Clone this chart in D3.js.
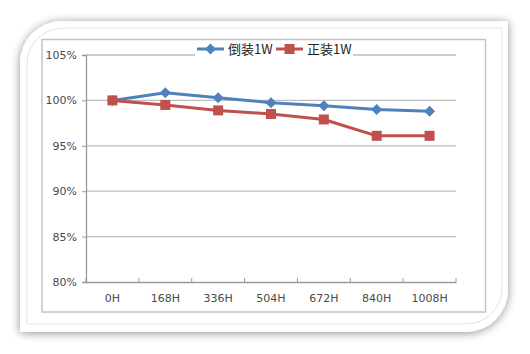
<!DOCTYPE html>
<html><head><meta charset="utf-8">
<script src="https://cdn.jsdelivr.net/npm/d3@7"></script>
<style>body{margin:0;background:#fff}svg{display:block}</style>
</head><body>
<svg id="c" width="530" height="354"></svg>
<script>
const categories = ["0H","168H","336H","504H","672H","840H","1008H"];
const seriesNames = ["倒装1W","正装1W"];
const flipValues = [100, 100.85, 100.3, 99.75, 99.4, 99.0, 98.8];
const normalValues = [100, 99.5, 98.9, 98.5, 97.9, 96.1, 96.1];
const yTicks = [80, 85, 90, 95, 100, 105];
const colors = ["#4f81bd", "#c0504d"];

const svg = d3.select("#c");
const defs = svg.append("defs");
const f = defs.append("filter").attr("id","sh").attr("x","-10%").attr("y","-10%").attr("width","120%").attr("height","120%");
f.append("feGaussianBlur").attr("in","SourceAlpha").attr("stdDeviation",5).attr("result","b");
f.append("feOffset").attr("in","b").attr("dx",0).attr("dy",1).attr("result","o");
f.append("feComponentTransfer").attr("in","o").attr("result","o2").append("feFuncA").attr("type","linear").attr("slope",0.45);
const m = f.append("feMerge"); m.append("feMergeNode").attr("in","o2"); m.append("feMergeNode").attr("in","SourceGraphic");

function cardPath(x0,y0,x1,y1,r){
  return `M${x0},${y0+r} A${r},${r} 0 0 1 ${x0+r},${y0} L${x1},${y0} L${x1},${y1-r} A${r},${r} 0 0 1 ${x1-r},${y1} L${x0},${y1} Z`;
}
svg.append("path").attr("d",cardPath(20,21,508,332,42)).attr("fill","#fff").attr("filter","url(#sh)");
svg.append("path").attr("d",cardPath(27,28,502,324,36)).attr("fill","none").attr("stroke","#e3e3e3").attr("stroke-width",1);
svg.append("rect").attr("x",42).attr("y",39.5).attr("width",443.5).attr("height",272.5).attr("fill","#fff").attr("stroke","#c4c4c4").attr("stroke-width",1.5);

const x = d3.scaleBand().domain(categories).range([86,456]);
const y = d3.scaleLinear().domain([80,105]).range([282,55]);

// grid
svg.append("g").selectAll("line").data(yTicks.filter(d=>d>80)).join("line")
  .attr("x1",86).attr("x2",456).attr("y1",d=>y(d)).attr("y2",d=>y(d))
  .attr("stroke","#bdbdbd").attr("stroke-width",1.3);

const yAxis = svg.append("g").attr("transform","translate(86,0)")
  .call(d3.axisLeft(y).tickValues(yTicks).tickFormat(d=>d+"%").tickSize(4).tickPadding(5));
const xAxis = svg.append("g").attr("transform",`translate(0,${y(80)})`)
  .call(d3.axisBottom(x).tickSize(0).tickPadding(12));
svg.append("g").selectAll("line").data(categories.map((c)=>x(c)+x.bandwidth()).concat([x(categories[0])])).join("line")
  .attr("x1",d=>d).attr("x2",d=>d).attr("y1",y(80)).attr("y2",y(80)-4).attr("stroke","#9a9a9a").attr("stroke-width",1);
[yAxis,xAxis].forEach(a=>{
  a.select(".domain").attr("stroke","#9a9a9a").attr("stroke-width",1.3);
  a.selectAll(".tick line").attr("stroke","#9a9a9a");
  a.selectAll("text").attr("fill","#4a4a4a").style("font-family","'DejaVu Sans',Verdana,sans-serif").style("font-size","11px");
});

const cx = d=>x(d)+x.bandwidth()/2;
const line = d3.line().x((d,i)=>cx(categories[i])).y(d=>y(d));
[flipValues, normalValues].forEach((vals,si)=>{
  svg.append("path").datum(vals).attr("d",line).attr("fill","none")
    .attr("stroke",colors[si]).attr("stroke-width",3).attr("stroke-linejoin","round");
});
const diamondPath = "M0,-5.5L5.5,0L0,5.5L-5.5,0Z";
svg.append("g").selectAll("path").data(flipValues).join("path")
  .attr("d",diamondPath).attr("transform",(d,i)=>`translate(${cx(categories[i])},${y(d)})`).attr("fill",colors[0]);
svg.append("g").selectAll("rect").data(normalValues).join("rect")
  .attr("x",(d,i)=>cx(categories[i])-5).attr("y",d=>y(d)-5).attr("width",10).attr("height",10).attr("fill",colors[1]);

const lg = svg.append("g");
const lx = [197, 276];
seriesNames.forEach((n,i)=>{
  const g = lg.append("g").attr("transform",`translate(${lx[i]},49)`);
  g.append("rect").attr("x",-2).attr("y",-8).attr("width",i?79:80).attr("height",16).attr("fill","#fff");
  g.append("line").attr("x1",0).attr("x2",27).attr("stroke",colors[i]).attr("stroke-width",3);
  if(i===0) g.append("path").attr("d",diamondPath).attr("transform","translate(13.5,0)").attr("fill",colors[0]);
  else g.append("rect").attr("x",8.5).attr("y",-5).attr("width",10).attr("height",10).attr("fill",colors[1]);
  g.append("text").attr("x",31).attr("y",5).text(n).attr("fill","#222")
    .style("font-family","'Noto Sans CJK SC',sans-serif").style("font-size","13px");
});
</script>
</body></html>
